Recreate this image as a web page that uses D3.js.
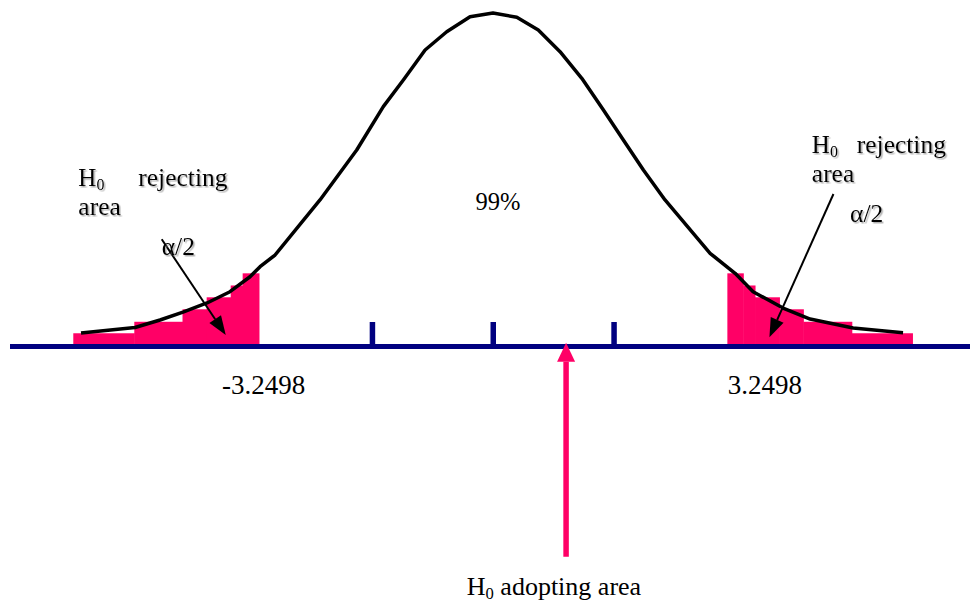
<!DOCTYPE html>
<html>
<head>
<meta charset="utf-8">
<script src="https://cdn.jsdelivr.net/npm/d3@7"></script>
<style>
  body { margin: 0; background: #fff; }
</style>
</head>
<body>
<div id="chart"></div>
<script>
// curve (z = position on the axis, d = height)
const curveZ = [-3.408, -2.961, -2.754, -2.564, -2.365, -2.175, -2.009, -1.926, -1.802, -1.430, -1.126, -0.906, -0.740, -0.560, -0.381, -0.188, 0.002,
                0.199, 0.377, 0.557, 0.737, 0.916, 1.081, 1.247, 1.426, 1.799, 2.006, 2.155, 2.403, 2.627, 2.983, 3.396];
const curveD = [0.0156, 0.0222, 0.0312, 0.0408, 0.0517, 0.0652, 0.0832, 0.0953, 0.1093, 0.1754, 0.2354, 0.2875, 0.3195, 0.3556, 0.3775, 0.3956, 0.4000,
                0.3948, 0.3796, 0.3535, 0.3216, 0.2835, 0.2474, 0.2114, 0.1754, 0.1114, 0.0873, 0.0652, 0.0456, 0.0324, 0.0216, 0.0160];

// stepped rejection areas
const leftEdges = [-3.472, -2.967, -2.568, -2.368, -2.169, -2.070, -1.935];
const leftTops = [0.0153, 0.0291, 0.0441, 0.0585, 0.0727, 0.0873];
const rightEdges = [1.942, 2.074, 2.171, 2.373, 2.571, 2.972, 3.474];
const rightTops = [0.0873, 0.0727, 0.0585, 0.0441, 0.0291, 0.0153];

const tickValues = [-1, 0, 1];
const critLabels = ["-3.2498", "3.2498"];
const acceptZ = 0.607;

const width = 970, height = 603;
const pink = "#ff0066", navy = "#000080";
const serif = "'Liberation Serif', 'Times New Roman', 'DejaVu Serif', serif";

const x = d3.scaleLinear().domain([-4, 4]).range([9.5, 976]);
const y = d3.scaleLinear().domain([0, 0.4]).range([346, 13]);

const svg = d3.select("#chart").append("svg")
  .attr("width", width)
  .attr("height", height)
  .attr("font-family", serif);

const defs = svg.append("defs");
defs.append("filter").attr("id", "shadow")
  .attr("x", "-10%").attr("y", "-20%").attr("width", "130%").attr("height", "150%")
  .append("feDropShadow")
  .attr("dx", 1.5).attr("dy", 1.5).attr("stdDeviation", 0.6)
  .attr("flood-color", "#808080").attr("flood-opacity", 0.6);

// tail steps
function drawSteps(edges, tops) {
  svg.append("g").selectAll("rect")
    .data(tops)
    .join("rect")
    .attr("x", (d, i) => x(edges[i]))
    .attr("width", (d, i) => x(edges[i + 1]) - x(edges[i]) + 0.5)
    .attr("y", d => y(d))
    .attr("height", d => y(0) - y(d))
    .attr("fill", pink);
}
drawSteps(leftEdges, leftTops);
drawSteps(rightEdges, rightTops);

// axis with upward ticks
const axis = svg.append("g")
  .attr("transform", `translate(0,${y(0)})`)
  .call(d3.axisTop(x).tickValues(tickValues).tickSize(24).tickSizeOuter(0).tickFormat(""));
axis.select(".domain").attr("stroke", navy).attr("stroke-width", 5);
axis.selectAll(".tick line").attr("stroke", navy).attr("stroke-width", 5.5);

// curve
const line = d3.line()
  .x((d, i) => x(curveZ[i]))
  .y(d => y(d));
svg.append("path")
  .datum(curveD)
  .attr("d", line)
  .attr("fill", "none")
  .attr("stroke", "#000")
  .attr("stroke-width", 3.5)
  .attr("stroke-linejoin", "round");

// arrows
function arrow(z0, d0, z1, d1, color, lw, headLen, headHalf) {
  const x0 = x(z0), y0 = y(d0), x1 = x(z1), y1 = y(d1);
  const a = Math.atan2(y1 - y0, x1 - x0);
  const bx = x1 - headLen * Math.cos(a), by = y1 - headLen * Math.sin(a);
  svg.append("line")
    .attr("x1", x0).attr("y1", y0).attr("x2", bx).attr("y2", by)
    .attr("stroke", color).attr("stroke-width", lw);
  const px = -Math.sin(a) * headHalf, py = Math.cos(a) * headHalf;
  svg.append("polygon")
    .attr("points", [[x1, y1], [bx + px, by + py], [bx - px, by - py]].map(p => p.join(",")).join(" "))
    .attr("fill", color);
}
arrow(-2.740, 0.1282, -2.210, 0.0132, "#000", 2, 19, 7);
arrow(2.820, 0.1826, 2.290, 0.0105, "#000", 2, 19, 7);
arrow(acceptZ, -0.2531, acceptZ, 0.004, pink, 5.5, 19, 9);

// labels
function h0(zx, d, size, shadow) {
  const t = svg.append("text")
    .attr("x", x(zx)).attr("y", y(d))
    .style("font-size", size + "px");
  if (shadow) t.attr("filter", "url(#shadow)");
  t.append("tspan").text("H");
  t.append("tspan").attr("dy", 4).style("font-size", (size * 0.64) + "px").text("0");
  return t;
}
function label(zx, d, txt, size, shadow, anchor) {
  const t = svg.append("text")
    .attr("x", x(zx)).attr("y", y(d))
    .attr("text-anchor", anchor || "start")
    .style("font-size", size + "px")
    .text(txt);
  if (shadow) t.attr("filter", "url(#shadow)");
  return t;
}

// left rejection area
h0(-3.430, 0.1922, 25, true);
label(-2.934, 0.1922, "rejecting", 25.5, true);
label(-3.430, 0.1574, "area", 25.5, true);
label(-2.740, 0.1093, "α/2", 25.5, true);

// right rejection area
h0(2.641, 0.2315, 25, true);
label(3.013, 0.2315, "rejecting", 25.5, true);
label(2.641, 0.1974, "area", 25.5, true);
label(2.958, 0.1493, "α/2", 25.5, true);

label(0.044, 0.1634, "99%", 24.5, false, "middle");
label(-1.897, -0.0577, critLabels[0], 27, false, "middle");
label(1.945, -0.0577, critLabels[1], 27, false, "start");

const adopt = h0(-0.215, -0.2995, 26, false);
adopt.append("tspan").attr("dy", -4).style("font-size", "26px").text(" adopting area");
</script>
</body>
</html>
